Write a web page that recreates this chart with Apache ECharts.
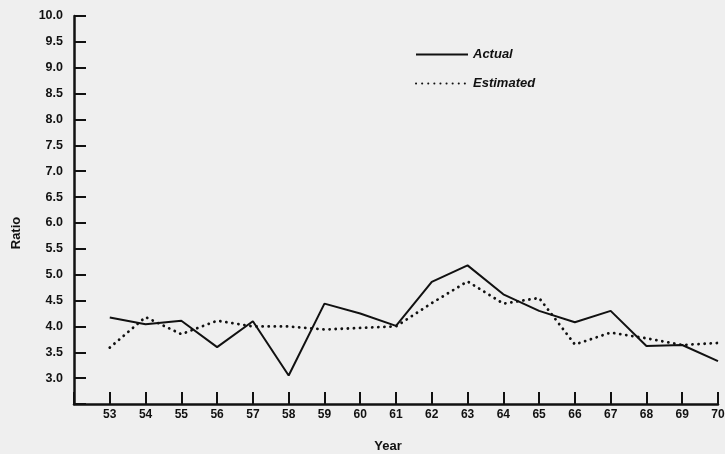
<!DOCTYPE html>
<html>
<head>
<meta charset="utf-8">
<script src="https://cdn.jsdelivr.net/npm/echarts@6/dist/echarts.min.js"></script>
<style>
  html, body { margin: 0; padding: 0; background: #efefef; }
  #chart { width: 725px; height: 454px; }
</style>
</head>
<body>
<div id="chart"></div>
<script>
const years = [53, 54, 55, 56, 57, 58, 59, 60, 61, 62, 63, 64, 65, 66, 67, 68, 69, 70];
const actual = [4.17, 4.04, 4.11, 3.60, 4.10, 3.05, 4.44, 4.25, 4.01, 4.86, 5.18, 4.62, 4.30, 4.08, 4.30, 3.62, 3.64, 3.33];
const estimated = [3.59, 4.18, 3.85, 4.11, 4.00, 4.00, 3.94, 3.97, 4.00, 4.45, 4.87, 4.44, 4.55, 3.65, 3.88, 3.77, 3.64, 3.68];
const seriesNames = ['Actual', 'Estimated'];

const toPairs = vals => years.map((y, i) => [y, vals[i]]);
const font = '"Liberation Sans", Arial, sans-serif';

const chart = echarts.init(document.getElementById('chart'));
chart.setOption({
  backgroundColor: '#efefef',
  animation: false,
  grid: { left: 74, right: 7, top: 16, bottom: 50, containLabel: false, outerBoundsMode: 'none' },
  legend: {
    orient: 'vertical',
    left: 410,
    top: 43,
    itemWidth: 52,
    itemHeight: 10,
    itemGap: 16,
    data: seriesNames,
    itemStyle: { opacity: 0 },
    textStyle: { fontFamily: font, fontSize: 13, fontWeight: 'bold', fontStyle: 'italic', color: '#111' }
  },
  xAxis: {
    type: 'value',
    min: 52,
    max: 70,
    interval: 1,
    name: 'Year',
    nameLocation: 'middle',
    nameGap: 36,
    nameTextStyle: { fontFamily: font, fontSize: 13, fontWeight: 'bold', color: '#111', padding: [0, 16, 0, 0] },
    splitLine: { show: false },
    axisLine: { lineStyle: { color: '#111', width: 2.5 } },
    axisTick: { inside: true, length: 12, lineStyle: { color: '#111', width: 2 } },
    axisLabel: {
      margin: 5,
      fontFamily: font, fontSize: 12, fontWeight: 'bold', color: '#111',
      formatter: v => (v >= 53 ? String(v) : '')
    }
  },
  yAxis: {
    type: 'value',
    min: 2.5,
    max: 10,
    interval: 0.5,
    name: 'Ratio',
    nameLocation: 'middle',
    nameRotate: 90,
    nameGap: 51,
    nameTextStyle: { fontFamily: font, fontSize: 13, fontWeight: 'bold', color: '#111', padding: [0, 46, 0, 0] },
    splitLine: { show: false },
    axisLine: { lineStyle: { color: '#111', width: 2.5 } },
    axisTick: { inside: true, length: 12, lineStyle: { color: '#111', width: 2 } },
    axisLabel: {
      margin: 11,
      fontFamily: font, fontSize: 12.5, fontWeight: 'bold', color: '#111',
      formatter: v => (v === 2.5 ? '' : v.toFixed(1))
    }
  },
  series: [
    {
      name: seriesNames[0],
      type: 'line',
      data: toPairs(actual),
      symbol: 'none',
      itemStyle: { color: '#111' },
      lineStyle: { color: '#111', width: 2 }
    },
    {
      name: seriesNames[1],
      type: 'line',
      data: toPairs(estimated),
      symbol: 'none',
      itemStyle: { color: '#111' },
      lineStyle: { color: '#111', width: 2.8, type: [0.1, 6], cap: 'round' }
    }
  ]
});
</script>
</body>
</html>
